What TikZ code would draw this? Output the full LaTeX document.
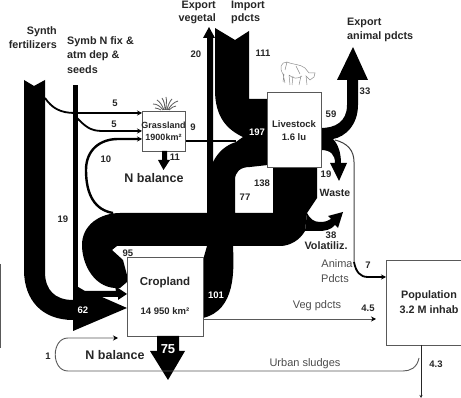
\documentclass[tikz,border=0pt]{standalone}
\usepackage{fontspec}
\setmainfont{Liberation Sans}
\usetikzlibrary{arrows.meta}
\tikzset{
 boxn/.style={draw=black!65,line width=0.9pt,fill=white,inner sep=0pt,align=center},
 lab/.style={font=\bfseries\fontsize{10.8}{14.5}\selectfont,text=black!85,inner sep=0pt,align=center},
 num/.style={font=\bfseries\fontsize{9.5}{11}\selectfont,text=black!85,inner sep=0pt,align=center},
 glab/.style={font=\fontsize{11}{13}\selectfont,text=black!70,inner sep=0pt,align=center},
 wlab/.style={num,text=white},
 blk/.style={fill=black,draw=none},
 flow/.style={draw=black,line width=1.8pt,line cap=butt},
 gline/.style={draw=black!65,line width=0.9pt},
 tip/.style={-{Stealth[length=5pt,width=5pt,color=black]}},
 cowl/.style={draw=black!45,line width=0.5pt},
 grassl/.style={draw=black!65,line width=0.8pt},
}
\begin{document}
\begin{tikzpicture}[x=1pt,y=-1pt]
\useasboundingbox (0,0) rectangle (461,398);
% stray edge at the left margin
\coordinate (sa) at (0.5,264); \coordinate (sb) at (0.5,348);
\draw[gline] (sa)--(sb);
% Symbiotic N band (19)
\fill[blk] (73,85)--(77.5,85)--(77.5,290)--(73,290)--cycle;
% Export vegetal band (20)
\fill[blk] (207,215)--(207,38)--(203,38)--(209,27)--(215,38)--(213,38)--(213,215)--cycle;
% Synth fertilizer band (62)
\fill[blk] (24,80)--(34,86)--(45,80)--(45,272) .. controls (45,290) and (55,300) .. (73,300)
  --(73,320) .. controls (42,320) and (24,300) .. (24,270)--cycle;
\fill[blk] (73,284)--(73,331)--(127,308)--(102,297)--(118,297)--(118,300)--(127,294)--(115,286)--(116,291)--(85,291)--cycle;
% Import + Livestock feed + main circuit
\fill[blk] (215,28)--(235,40)--(249,31)--(249,99)--(268,99)--(268,165)--(250,167)
  .. controls (240,167) and (235,172) .. (235,180)--(235,213)--(273,213)--(273,160)--(317,160)--(317,198)
  --(307,213)--(305,231) .. controls (300,240) and (290,246) .. (280,246)--(233,246)
  .. controls (234,270) and (236,310) .. (203,318)--(203,260)--(207,246)--(130,246)--(117,246)--(112,250)
  --(123,260)--(127,275)--(127,282)--(120,288) .. controls (95,290) and (82,265) .. (82,245) .. controls (82,225) and (100,213) .. (120,213)
  --(213,213)--(213,162) .. controls (218,152) and (226,145) .. (236,142)--(243,137)
  .. controls (228,130) and (215,118) .. (215,90)--cycle;
% Volatilization arrow (38)
\fill[blk] (307,213) .. controls (310,219) and (314,222) .. (320,222) .. controls (325,222) and (328,221) .. (331,219)--(328,216)--(343,212)--(338,228)--(335,225)
  .. controls (331,230) and (325,231) .. (318,231)--(305,231)--cycle;
% Livestock outputs
\fill[blk] (321,128) .. controls (335,128) and (347,122) .. (347,105)--(347,80)--(337,80)--(353,47)--(368,80)--(358,80)--(358,105)
  .. controls (358,125) and (345,137) .. (333,139)--(333,139) .. controls (339,145) and (341,155) .. (341,163)
  --(347,163)--(339,181)--(330,163)--(335,163) .. controls (335,155) and (331,150) .. (321,150)--cycle;
% grass
\draw[grassl] (163,110) .. controls (160,106) and (157,104) .. (153,104)
 (164,110) .. controls (162,105) and (160,102) .. (157,100)
 (165,110) .. controls (165,105) and (164,101) .. (162,98)
 (166,110) .. controls (166,105) and (167,101) .. (166,97)
 (167,110) .. controls (168,105) and (170,101) .. (172,99)
 (168,110) .. controls (170,106) and (174,102) .. (178,101)
 (169,110) .. controls (171,108) and (174,106) .. (176,106)
 (161,110) .. controls (159,109) and (157,108) .. (155,108);
% cow
\draw[cowl] (285,83) -- (283,74) .. controls (279,68) and (281,62) .. (287,62) .. controls (294,65) and (300,64) .. (305,68) -- (309,73) -- (315,73) -- (314,77) -- (310,80) -- (306,76) -- (307,85)
 (284,74) -- (283,82) (289,75) -- (290,85) (293,76) -- (292,85) (301,76) -- (299,85) (289,75) .. controls (293,79) and (298,79) .. (302,76) (287,62) -- (285,70) (296,66) -- (300,74);
% nodes
\node[boxn,minimum width=43pt,minimum height=40pt,anchor=north west] (gr) at (142,111) {};
\node[boxn,minimum width=54pt,minimum height=75pt,anchor=north west] (li) at (267,92) {};
\node[boxn,minimum width=76pt,minimum height=79pt,anchor=north west] (cr) at (127,257) {};
\node[boxn,minimum width=76pt,minimum height=85pt,anchor=north west] (po) at (386,260) {};
\node[num,font=\bfseries\fontsize{9}{11}\selectfont] at (163.5,125) {Grassland};
\node[num,font=\bfseries\fontsize{9}{11}\selectfont] at (163.5,137) {1900km²};
\node[num] at (294,124) {Livestock};
\node[num] at (294,137) {1.6 lu};
\node[lab,font=\bfseries\fontsize{11.5}{14}\selectfont] at (165,283) {Cropland};
\node[num] at (165,311) {14 950 km²};
\node[lab] at (429,296) {Population};
\node[lab] at (429,310) {3.2 M inhab};
% flows
\coordinate (f1) at (45,98); \coordinate (f2) at (77,118); \coordinate (f3) at (113,213);
\draw[flow,tip] (f1) .. controls (52,108) and (60,113) .. (75,113) -- (gr.west|-0,113);
\draw[flow,tip] (f2) .. controls (85,126) and (90,131) .. (102,131) -- (gr.west|-0,131);
\draw[flow,line width=2.4pt,tip] (f3) .. controls (95,210) and (86,195) .. (86,170) .. controls (86,150) and (100,139) .. (118,139) -- (gr.west|-0,139);
\coordinate (f4) at (236,141);
\draw[flow] (gr.east|-0,141) -- (f4);
\fill[blk] (162,151)--(167,151)--(167,160)--(170,160)--(163.5,170)--(158,160)--(162,160)--cycle;
% Cropland output 75
\fill[blk] (157,336)--(179,336)--(179,351)--(185,351)--(168,380)--(150,351)--(157,351)--cycle;
% animal line
\coordinate (a1) at (335,140);
\draw[draw=black!75,line width=1pt] (a1) .. controls (347,143) and (354,150) .. (354,162) -- (354,262);
\draw[flow,tip] (354,262) .. controls (356,272) and (360,277) .. (368,277) -- (po.west|-0,277);
% veg line
\draw[gline,tip] (cr.east|-0,319) -- (376,319);
% urban sludge + N balance loop
\coordinate (u1) at (421,345); \coordinate (u2) at (421,398);
\draw[draw=black!85,line width=1pt,-{Stealth[length=3pt,width=3pt]}] (u1)--(u2);
\draw[gline,tip] (419,358) .. controls (417,368) and (410,371) .. (403,371) -- (68,371) .. controls (51,371) and (51,338) .. (68,338) -- (118,338);
% labels
\node[lab,align=right,anchor=east] at (57,37.5) {Synth\\fertilizers};
\node[lab,align=left,anchor=west] at (67,55) {Symb N fix \&\\atm dep \&\\seeds};
\node[lab,font=\bfseries\fontsize{10.8}{13}\selectfont,align=right,anchor=east] at (216,12) {Export\\vegetal};
\node[lab,font=\bfseries\fontsize{10.8}{13}\selectfont,align=left,anchor=west] at (231,12) {Import\\pdcts};
\node[lab,align=left,anchor=west] at (347,30) {Export\\animal pdcts};
\node[num] at (115,103) {5}; \node[num] at (114,124) {5};
\node[num] at (193,127) {9}; \node[num] at (106,159) {10};
\node[num] at (175,157) {11}; \node[num] at (196,54) {20};
\node[num] at (263,53) {111}; \node[num] at (365,91) {33};
\node[num] at (331,114) {59}; \node[num] at (326,174) {19};
\node[num] at (262,183) {138}; \node[num] at (245,197) {77};
\node[num] at (63,219) {19}; \node[num] at (128,253) {95};
\node[wlab] at (83,310) {62}; \node[wlab] at (216,295) {101};
\node[wlab,font=\bfseries\fontsize{13}{15}\selectfont] at (168,349) {75};
\node[wlab] at (257,132) {197};
\node[num] at (48,356) {1};
\node[lab,font=\bfseries\fontsize{12.5}{14}\selectfont] at (115,355) {N balance};
\node[lab,font=\bfseries\fontsize{12.5}{14}\selectfont] at (154,178) {N balance};
\node[lab,font=\bfseries\fontsize{10.5}{12}\selectfont] at (335,193) {Waste};
\node[num] at (331,235) {38};
\node[lab] at (326,246) {Volatiliz.};
\node[glab] at (337,264) {Anima};
\node[glab] at (335,279) {Pdcts};
\node[num] at (368,265) {7};
\node[glab] at (317,306) {Veg pdcts};
\node[num] at (368,308) {4.5};
\node[glab] at (305,364) {Urban sludges};
\node[num] at (436,364) {4.3};
\end{tikzpicture}
\end{document}
